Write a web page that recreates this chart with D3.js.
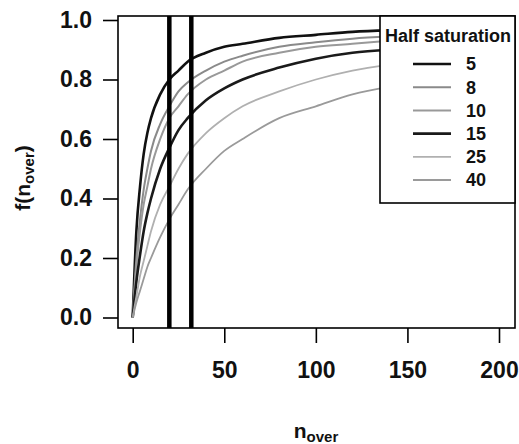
<!doctype html>
<html lang="en">
<head>
<meta charset="utf-8">
<title>Half saturation curves</title>
<script src="https://cdn.jsdelivr.net/npm/d3@7"></script>
<style>
	body { margin: 0; background: #fff; }
	text { font-family: "Liberation Sans", Arial, sans-serif; font-weight: bold; fill: #111; }
</style>
</head>
<body>
<svg id="chart" width="519" height="444"></svg>
<script>
// values
var nOver = [0, 2, 4, 6, 8, 10, 15, 20, 25, 30, 40, 50, 60, 80, 100, 120, 140];
var halfSat = [5, 8, 10, 15, 25, 40];
var f5  = [0, 0.29, 0.44, 0.55, 0.62, 0.67, 0.75, 0.80, 0.83, 0.86, 0.89, 0.91, 0.92, 0.94, 0.95, 0.96, 0.965];
var f8  = [0, 0.20, 0.33, 0.43, 0.50, 0.56, 0.65, 0.71, 0.76, 0.79, 0.83, 0.86, 0.88, 0.91, 0.925, 0.937, 0.945];
var f10 = [0, 0.17, 0.29, 0.38, 0.44, 0.50, 0.60, 0.67, 0.71, 0.75, 0.80, 0.83, 0.86, 0.89, 0.91, 0.92, 0.93];
var f15 = [0, 0.12, 0.21, 0.29, 0.35, 0.40, 0.50, 0.57, 0.63, 0.67, 0.73, 0.77, 0.80, 0.84, 0.87, 0.89, 0.90];
var f25 = [0, 0.07, 0.14, 0.19, 0.24, 0.29, 0.38, 0.44, 0.50, 0.55, 0.62, 0.67, 0.71, 0.76, 0.80, 0.83, 0.85];
var f40 = [0, 0.05, 0.09, 0.13, 0.17, 0.20, 0.27, 0.33, 0.38, 0.43, 0.50, 0.56, 0.60, 0.67, 0.71, 0.75, 0.775];
var markers = [20, 32];
var xTicks = [0, 50, 100, 150, 200];
var yTicks = [0, 0.2, 0.4, 0.6, 0.8, 1.0];

var series = [f5, f8, f10, f15, f25, f40];
var colors = ["#111", "#8a8a8a", "#999", "#1a1a1a", "#b0b0b0", "#9a9a9a"];
var widths = [2.6, 2, 2, 2.6, 1.8, 1.8];

var svg = d3.select("#chart");
var box = {left: 118, right: 515, top: 16, bottom: 328};

var xScale = d3.scaleLinear().domain([0, 200]).range([132.7, 499]);
var yScale = d3.scaleLinear().domain([0, 1]).range([317.5, 20]);

// curves
var line = d3.line().curve(d3.curveMonotoneX)
	.x(function(d) { return xScale(d[0]); })
	.y(function(d) { return yScale(d[1]); });

series.forEach(function(s, i) {
	svg.append("path")
		.attr("d", line(nOver.map(function(n, j) { return [n, s[j]]; })))
		.attr("fill", "none")
		.attr("stroke", colors[i])
		.attr("stroke-width", widths[i]);
});

// thick vertical lines
svg.selectAll("line.marker")
	.data(markers)
	.enter()
	.append("line")
	.attr("class", "marker")
	.attr("x1", function(d) { return xScale(d); })
	.attr("x2", function(d) { return xScale(d); })
	.attr("y1", box.top)
	.attr("y2", box.bottom)
	.attr("stroke", "#000")
	.attr("stroke-width", 4.5);

// plot frame
svg.append("rect")
	.attr("x", box.left).attr("y", box.top)
	.attr("width", box.right - box.left).attr("height", box.bottom - box.top)
	.attr("fill", "none").attr("stroke", "#000").attr("stroke-width", 1.6);

// axes
var xAxis = d3.axisBottom(xScale).tickValues(xTicks).tickSize(15).tickPadding(19).tickFormat(d3.format("d"));
var gx = svg.append("g").attr("transform", "translate(0," + box.bottom + ")").call(xAxis);
gx.select(".domain").remove();

var yAxis = d3.axisLeft(yScale).tickValues(yTicks).tickSize(15).tickPadding(11).tickFormat(d3.format(".1f"));
var gy = svg.append("g").attr("transform", "translate(" + box.left + ",0)").call(yAxis);
gy.select(".domain").remove();

svg.selectAll(".tick line").attr("stroke", "#000").attr("stroke-width", 1.6);
svg.selectAll(".tick text")
	.style("font-family", "'Liberation Sans', Arial, sans-serif")
	.style("font-weight", "bold")
	.style("font-size", "23px")
	.attr("fill", "#111");

// axis titles
var xt = svg.append("text").attr("x", 316).attr("y", 438).attr("text-anchor", "middle").style("font-size", "21px");
xt.append("tspan").text("n");
xt.append("tspan").attr("dy", 4).style("font-size", "15px").text("over");

var yt = svg.append("text").attr("transform", "translate(30,178) rotate(-90)").attr("text-anchor", "middle").style("font-size", "21px");
yt.append("tspan").text("f(n");
yt.append("tspan").attr("dy", 4).style("font-size", "15px").text("over");
yt.append("tspan").attr("dy", -4).text(")");

// legend
var lg = svg.append("g");
lg.append("rect")
	.attr("x", 380).attr("y", box.top)
	.attr("width", box.right - 380).attr("height", 187)
	.attr("fill", "#fff").attr("stroke", "#000").attr("stroke-width", 1.6);
lg.append("text").attr("x", 448).attr("y", 42).attr("text-anchor", "middle")
	.style("font-size", "18px").text("Half saturation");

var items = lg.selectAll("g.item")
	.data(halfSat)
	.enter()
	.append("g")
	.attr("class", "item")
	.attr("transform", function(d, i) { return "translate(0," + (64 + i * 23.2) + ")"; });
items.append("line")
	.attr("x1", 413).attr("x2", 451)
	.attr("stroke", function(d, i) { return colors[i]; })
	.attr("stroke-width", function(d, i) { return widths[i]; });
items.append("text")
	.attr("x", 466).attr("dy", "0.36em")
	.style("font-size", "18px")
	.text(function(d) { return d; });
</script>
</body>
</html>
